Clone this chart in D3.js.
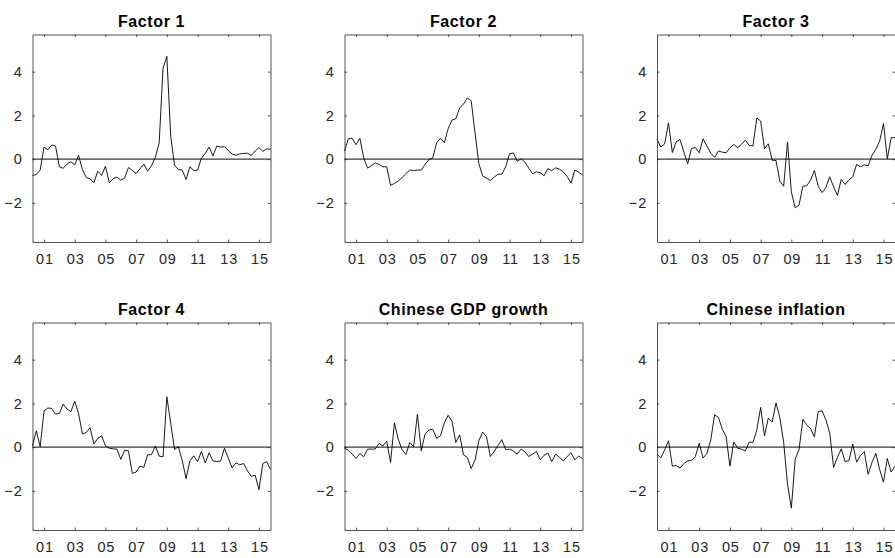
<!DOCTYPE html>
<html>
<head>
<meta charset="utf-8">
<script src="https://cdn.jsdelivr.net/npm/d3@7"></script>
<style>
  html, body { margin: 0; padding: 0; background: #fff; }
  svg { display: block; font-family: "Liberation Sans", Arial, Helvetica, sans-serif; }
</style>
</head>
<body>
<svg id="chart" width="895" height="558"></svg>
<script>
// ---- data (quarterly, 2000Q2 .. 2015Q4) ----
const startYear = 2000.25;
const step = 0.25;
const titles = ["Factor 1", "Factor 2", "Factor 3", "Factor 4", "Chinese GDP growth", "Chinese inflation"];
const xTickYears = [2001, 2003, 2005, 2007, 2009, 2011, 2013, 2015];
const xTickLabels = ["01", "03", "05", "07", "09", "11", "13", "15"];
const yTicks = [-2, 0, 2, 4];

const factor1 = [-0.75,-0.7,-0.5,0.55,0.43,0.65,0.6,-0.35,-0.42,-0.22,-0.12,-0.26,0.17,-0.47,-0.85,-0.9,-1.08,-0.55,-0.75,-0.32,-1.08,-0.9,-0.82,-0.96,-0.87,-0.38,-0.52,-0.66,-0.44,-0.23,-0.55,-0.3,0.08,0.75,4.15,4.7,1.05,-0.28,-0.47,-0.5,-0.93,-0.35,-0.52,-0.5,0.05,0.26,0.55,0.15,0.6,0.55,0.57,0.4,0.23,0.18,0.24,0.26,0.27,0.17,0.37,0.53,0.35,0.47,0.46];
const factor2 = [0.37,0.93,0.96,0.66,0.95,0.06,-0.41,-0.3,-0.18,-0.24,-0.35,-0.35,-1.2,-1.11,-1.0,-0.85,-0.66,-0.5,-0.52,-0.5,-0.5,-0.24,-0.02,0.06,0.75,0.95,0.75,1.39,1.79,1.85,2.34,2.52,2.8,2.67,1.2,-0.2,-0.78,-0.87,-0.98,-0.82,-0.69,-0.69,-0.35,0.25,0.28,-0.1,0.02,-0.14,-0.41,-0.67,-0.58,-0.62,-0.76,-0.43,-0.53,-0.4,-0.46,-0.58,-0.79,-1.1,-0.5,-0.6,-0.72];
const factor3 = [0.9,0.55,0.7,1.66,0.3,0.79,0.9,0.32,-0.21,0.49,0.53,0.29,0.93,0.6,0.27,0.08,0.37,0.32,0.29,0.52,0.67,0.52,0.67,0.87,0.63,0.6,1.88,1.74,0.47,0.7,-0.05,-0.06,-1.01,-1.24,0.78,-1.51,-2.23,-2.1,-1.24,-1.22,-0.96,-0.52,-1.24,-1.53,-1.31,-0.81,-1.27,-1.66,-0.93,-1.16,-0.95,-0.81,-0.24,-0.35,-0.26,-0.3,0.17,0.44,0.82,1.63,0.02,0.98,0.98];
const factor4 = [0.06,0.75,0.02,1.66,1.79,1.77,1.51,1.54,1.97,1.74,1.62,2.1,1.54,0.6,0.67,0.89,0.14,0.4,0.52,0.06,-0.05,-0.08,-0.09,-0.56,-0.14,-0.17,-1.2,-1.14,-0.87,-0.93,-0.35,-0.34,0.05,-0.41,-0.44,2.3,1.1,-0.1,0.02,-0.6,-1.44,-0.63,-0.4,-0.66,-0.2,-0.72,-0.26,-0.63,-0.66,-0.64,-0.05,-0.5,-0.95,-0.72,-0.81,-0.75,-1.08,-1.34,-1.28,-1.94,-0.75,-0.66,-1.02];
const gdpGrowth = [-0.05,-0.14,-0.32,-0.52,-0.29,-0.44,-0.09,-0.09,-0.09,0.17,0.05,0.27,-0.7,1.11,0.37,-0.12,-0.34,0.21,0.02,1.5,-0.17,0.61,0.78,0.81,0.4,0.52,1.11,1.46,1.19,0.21,0.56,-0.35,-0.47,-0.98,-0.6,0.29,0.69,0.47,-0.43,-0.2,0.08,0.34,-0.12,-0.09,-0.18,-0.32,-0.09,-0.21,-0.43,-0.32,-0.2,-0.58,-0.37,-0.27,-0.66,-0.32,-0.47,-0.63,-0.43,-0.26,-0.58,-0.41,-0.53];
const inflation = [-0.32,-0.5,-0.12,0.29,-0.87,-0.84,-0.96,-0.75,-0.63,-0.6,-0.43,0.18,-0.5,-0.29,0.32,1.48,1.36,0.82,0.49,-0.87,0.24,-0.05,-0.09,-0.18,0.23,0.21,0.78,1.82,0.52,1.33,1.15,2.02,1.36,0.21,-1.69,-2.79,-0.55,-0.11,1.27,1.02,0.85,0.47,1.63,1.66,1.25,0.64,-0.93,-0.47,-0.08,-0.67,-0.61,0.14,-0.69,-0.38,-0.2,-1.24,-0.7,-0.29,-1.02,-1.6,-0.52,-1.14,-0.87];

const seriesList = [factor1, factor2, factor3, factor4, gdpGrowth, inflation];

// ---- layout ----
const svg = d3.select("#chart");
const colLefts = [32.5, 344.5, 657];
const rowTops = [34.5, 322.5];
const pw = 238, ph = 207.5;
const axisColor = "#262626";

const allVals = seriesList.flat();
const yMin = d3.min(allVals) - 1, yMax = d3.max(allVals) + 1;

seriesList.forEach((vals, k) => {
  const col = k % 3, row = Math.floor(k / 3);
  const g = svg.append("g").attr("transform", `translate(${colLefts[col]},${rowTops[row]})`);
  const x = d3.scaleLinear().domain([startYear, startYear + step * (vals.length - 1)]).range([0, pw]);
  const y = d3.scaleLinear().domain([yMin, yMax]).range([ph, 0]);
  const data = vals.map((v, i) => ({ t: startYear + i * step, v }));

  // zero line
  g.append("line")
    .attr("x1", 0).attr("x2", pw)
    .attr("y1", y(0)).attr("y2", y(0))
    .attr("stroke", "#3a3a3a").attr("stroke-width", 1.1);

  // data line
  g.append("path")
    .datum(data)
    .attr("fill", "none")
    .attr("stroke", "#000")
    .attr("stroke-width", 0.9)
    .attr("stroke-linejoin", "round")
    .attr("d", d3.line().x(d => x(d.t)).y(d => y(d.v)));

  // axes (ticks inside, box)
  const tl = 2.5;
  const bottom = g.append("g").attr("transform", `translate(0,${ph})`)
    .call(d3.axisBottom(x).tickValues(xTickYears).tickFormat((d, i) => xTickLabels[i]).tickSizeInner(-tl).tickSizeOuter(0).tickPadding(12));
  const top = g.append("g")
    .call(d3.axisTop(x).tickValues(xTickYears).tickFormat("").tickSizeInner(-tl).tickSizeOuter(0));
  const left = g.append("g")
    .call(d3.axisLeft(y).tickValues(yTicks).tickSizeInner(-tl).tickSizeOuter(0).tickPadding(10));
  const right = g.append("g").attr("transform", `translate(${pw},0)`)
    .call(d3.axisRight(y).tickValues(yTicks).tickFormat("").tickSizeInner(-tl).tickSizeOuter(0));

  [bottom, top, left, right].forEach(a => {
    a.selectAll("path.domain").attr("stroke", axisColor).attr("stroke-width", 0.8);
    a.selectAll("line").attr("stroke", axisColor).attr("stroke-width", 0.8);
    a.selectAll("text").attr("fill", axisColor).style("font-size", "14.5px")
      .style("letter-spacing", "0.8px")
      .style("font-family", "'Liberation Sans', Arial, Helvetica, sans-serif");
  });
  bottom.selectAll("text").attr("dx", "0.4px");

  // title
  g.append("text")
    .attr("x", pw / 2).attr("y", -8)
    .attr("text-anchor", "middle")
    .style("font-size", "16px").style("font-weight", "bold")
    .style("letter-spacing", "0.6px")
    .attr("fill", "#000")
    .text(titles[k]);
});
</script>
</body>
</html>
